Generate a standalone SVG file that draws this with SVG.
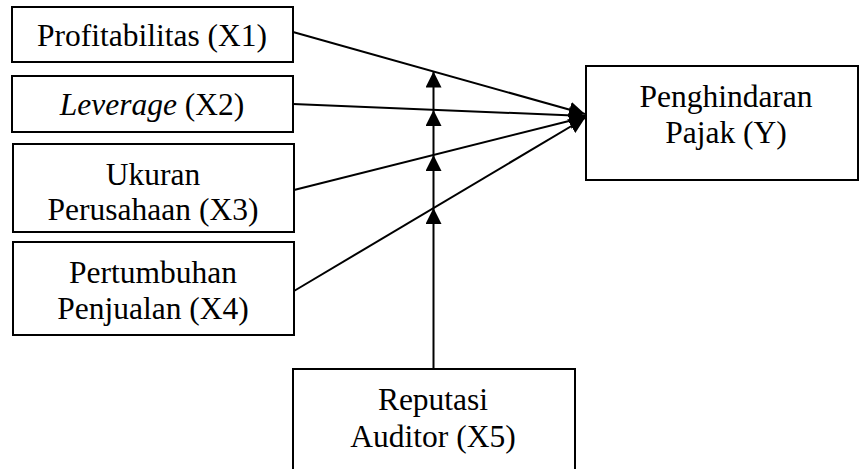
<svg xmlns="http://www.w3.org/2000/svg" width="860" height="469" viewBox="0 0 860 469">
<style>
.box{fill:#fff;stroke:#000;stroke-width:2}
.t{font-family:"Liberation Serif","Times New Roman",serif;font-size:31.5px;fill:#000;text-anchor:middle}
.c{stroke:#000;stroke-width:2;fill:none;marker-end:url(#ah)}
</style>
<defs>
<marker id="ah" viewBox="0 0 16 16" refX="16" refY="8" markerWidth="16" markerHeight="16" markerUnits="userSpaceOnUse" orient="auto">
<path d="M0,0 L16,8 L0,16 z" fill="#000"/>
</marker>
</defs>
<rect width="860" height="469" fill="#fff"/>
<g id="x1"><rect class="box" x="12" y="7" width="281" height="55"/><text class="t" x="152" y="46">Profitabilitas (X1)</text></g>
<g id="x2"><rect class="box" x="12" y="76" width="281" height="56"/><text class="t" x="152" y="115"><tspan font-style="italic">Leverage</tspan> (X2)</text></g>
<g id="x3"><rect class="box" x="13" y="144" width="281" height="88"/><text class="t" x="153" y="185">Ukuran</text><text class="t" x="153" y="220">Perusahaan (X3)</text></g>
<g id="x4"><rect class="box" x="13" y="242" width="281" height="93"/><text class="t" x="153" y="283">Pertumbuhan</text><text class="t" x="153" y="319">Penjualan (X4)</text></g>
<g id="y"><rect class="box" x="586" y="66" width="272" height="114"/><text class="t" x="726" y="107">Penghindaran</text><text class="t" x="726" y="143">Pajak (Y)</text></g>
<g id="x5"><rect class="box" x="293" y="369" width="282" height="115"/><text class="t" x="433" y="410">Reputasi</text><text class="t" x="433" y="447">Auditor (X5)</text></g>
<g id="connectors">
<line class="c" x1="293" y1="32" x2="585" y2="114"/>
<line class="c" x1="293" y1="104" x2="585" y2="116"/>
<line class="c" x1="294" y1="190" x2="585" y2="117"/>
<line class="c" x1="294" y1="291" x2="585" y2="118"/>
<line class="c" x1="433.5" y1="368" x2="433.5" y2="208"/>
<line class="c" x1="433.5" y1="208" x2="433.5" y2="155"/>
<line class="c" x1="433.5" y1="155" x2="433.5" y2="110"/>
<line class="c" x1="433.5" y1="110" x2="433.5" y2="71.5"/>
</g>
</svg>
